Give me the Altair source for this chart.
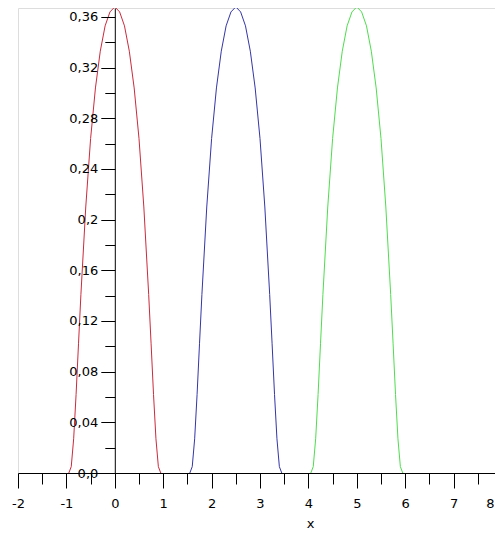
import altair as alt
import pandas as pd

# ---- data ----
red_x = [-0.95, -0.9, -0.85, -0.8, -0.75, -0.7, -0.6, -0.5, -0.4, -0.3, -0.2, -0.1, 0.0,
         0.1, 0.2, 0.3, 0.4, 0.5, 0.6, 0.7, 0.75, 0.8, 0.85, 0.9, 0.95]
red_y = [0.000, 0.005, 0.027, 0.062, 0.102, 0.141, 0.210, 0.264, 0.304, 0.333, 0.353, 0.364, 0.368,
         0.364, 0.353, 0.333, 0.304, 0.264, 0.210, 0.141, 0.102, 0.062, 0.027, 0.005, 0.000]

blue_x = [1.55, 1.6, 1.65, 1.7, 1.75, 1.8, 1.9, 2.0, 2.1, 2.2, 2.3, 2.4, 2.5,
          2.6, 2.7, 2.8, 2.9, 3.0, 3.1, 3.2, 3.25, 3.3, 3.35, 3.4, 3.45]
blue_y = [0.000, 0.005, 0.027, 0.062, 0.102, 0.141, 0.210, 0.264, 0.304, 0.333, 0.353, 0.364, 0.368,
          0.364, 0.353, 0.333, 0.304, 0.264, 0.210, 0.141, 0.102, 0.062, 0.027, 0.005, 0.000]

green_x = [4.05, 4.1, 4.15, 4.2, 4.25, 4.3, 4.4, 4.5, 4.6, 4.7, 4.8, 4.9, 5.0,
           5.1, 5.2, 5.3, 5.4, 5.5, 5.6, 5.7, 5.75, 5.8, 5.85, 5.9, 5.95]
green_y = [0.000, 0.005, 0.027, 0.062, 0.102, 0.141, 0.210, 0.264, 0.304, 0.333, 0.353, 0.364, 0.368,
           0.364, 0.353, 0.333, 0.304, 0.264, 0.210, 0.141, 0.102, 0.062, 0.027, 0.005, 0.000]

series_names = ["red", "blue", "green"]
series_colors = ["#cc2a3c", "#3535a8", "#4fdc4f"]

# axis ticks and labels
x_major = [-2, -1, 0, 1, 2, 3, 4, 5, 6, 7, 8]
x_labels = ["-2", "-1", "0", "1", "2", "3", "4", "5", "6", "7", "8"]
x_all_ticks = [-2, -1.5, -1, -0.5, 0, 0.5, 1, 1.5, 2, 2.5, 3, 3.5, 4, 4.5, 5, 5.5, 6, 6.5, 7, 7.5, 8]

y_major = [0.0, 0.04, 0.08, 0.12, 0.16, 0.2, 0.24, 0.28, 0.32, 0.36]
y_labels = ["0,0", "0,04", "0,08", "0,12", "0,16", "0,2", "0,24", "0,28", "0,32", "0,36"]
y_all_ticks = [0.0, 0.02, 0.04, 0.06, 0.08, 0.1, 0.12, 0.14, 0.16, 0.18, 0.2,
               0.22, 0.24, 0.26, 0.28, 0.3, 0.32, 0.34, 0.36]

x_title = "x"

# ---- build table ----
frames = []
for name, xs, ys in [("red", red_x, red_y), ("blue", blue_x, blue_y), ("green", green_x, green_y)]:
    frames.append(pd.DataFrame({"x": xs, "y": ys, "series": name, "order": range(len(xs))}))
df = pd.concat(frames, ignore_index=True)


def arr(values):
    return "[" + ",".join(repr(float(a)) for a in values) + "]"


def lookup_expr(values, labels):
    v = arr(values)
    l = "[" + ",".join("'" + s + "'" for s in labels) + "]"
    return f"indexof({v}, datum.value) >= 0 ? {l}[indexof({v}, datum.value)] : ''"


def minor_test(values):
    return f"indexof({arr(values)}, datum.value) < 0"


FONT = "DejaVu Sans"
W = 484
H = 465
x_zero_px = W * (0 - (-2)) / 10.0
last_x = x_major[-1]

chart = alt.Chart(df).mark_line(strokeWidth=1, interpolate="linear", clip=False).encode(
    x=alt.X(
        "x:Q",
        scale=alt.Scale(domain=[-2, 8], nice=False, zero=False),
        axis=alt.Axis(
            values=x_all_ticks,
            labelExpr=lookup_expr(x_major, x_labels),
            tickSize={"condition": {"test": minor_test(x_major), "value": 11}, "value": 15},
            labelAlign={"condition": {"test": f"datum.value == {last_x}", "value": "right"}, "value": "center"},
            labelOffset={"condition": {"test": f"datum.value == {last_x}", "value": -8}, "value": 0},
            title=x_title,
            titleX=(310 - 18),
            titleY=54,
            titleBaseline="alphabetic",
            titleAlign="center",
            titleFontWeight="normal",
            titleFont=FONT,
            titleFontSize=13,
            titleColor="black",
            labelFont=FONT,
            labelFontSize=13,
            labelColor="black",
            labelPadding=9,
            labelFlush=False,
            labelOverlap=False,
            domainColor="black",
            tickColor="black",
            domainWidth=1,
            tickWidth=1,
            grid=False,
            gridOpacity=0,
            zindex=1,
        ),
    ),
    y=alt.Y(
        "y:Q",
        scale=alt.Scale(domain=[0, 0.3671], nice=False, zero=False),
        axis=alt.Axis(
            values=y_all_ticks,
            labelExpr=lookup_expr(y_major, y_labels),
            tickSize={"condition": {"test": minor_test(y_major), "value": 10}, "value": 14},
            offset=-x_zero_px,
            title=None,
            labelFont=FONT,
            labelFontSize=13,
            labelColor="black",
            labelPadding=3,
            labelFlush=False,
            labelOverlap=False,
            domainColor="black",
            tickColor="black",
            domainWidth=1,
            tickWidth=1,
            grid=False,
            gridOpacity=0,
            zindex=1,
        ),
    ),
    color=alt.Color(
        "series:N",
        scale=alt.Scale(domain=series_names, range=series_colors),
        legend=None,
    ),
    detail="series:N",
    order="order:Q",
).properties(
    width=W,
    height=H,
    autosize=alt.AutoSizeParams(type="none"),
    padding={"left": 10, "top": 0, "right": -7, "bottom": 57},
).configure_view(
    stroke="white", strokeWidth=0, strokeOpacity=0, fill="white"
).configure(background="white")

chart.save("out.html", embed_options={"renderer": "svg", "actions": False})
